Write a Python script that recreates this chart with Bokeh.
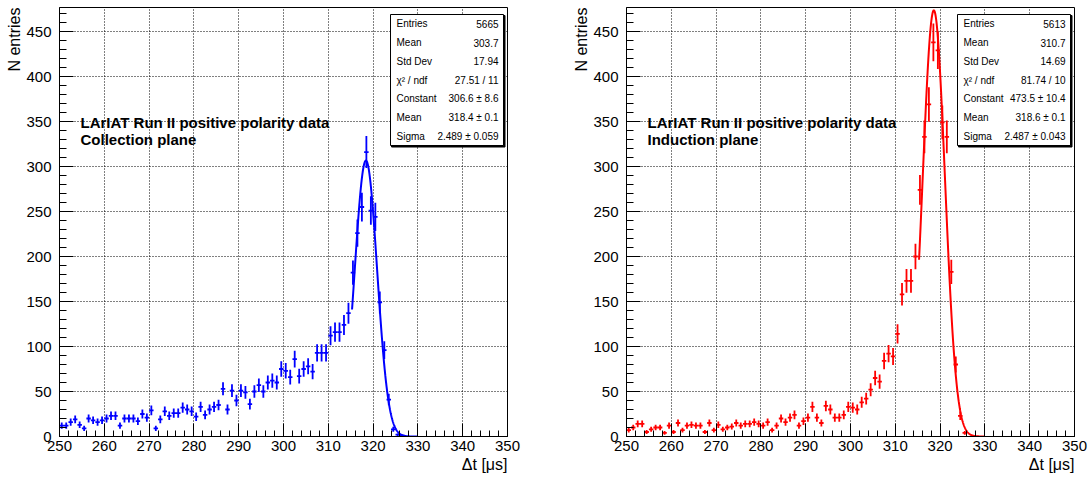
import numpy as np
from bokeh.plotting import figure
from bokeh.layouts import row
from bokeh.models import Label, SingleIntervalTicker, Range1d, ColumnDataSource, Title
from bokeh.core.properties import value
from bokeh.embed import file_html
from bokeh.resources import INLINE

# ---------------- data ----------------
bin_low = 250.0      # lower edge of first bin (us)
bin_width = 1.0      # us
collection_counts = [12, 12, 16, 19, 13, 9, 20, 18, 16, 18,
                     20, 23, 23, 12, 20, 20, 20, 17, 25, 21,
                     29, 9, 19, 28, 23, 26, 26, 32, 30, 28,
                     22, 33, 24, 30, 33, 35, 53, 30, 51, 40,
                     51, 49, 36, 50, 57, 50, 60, 62, 60, 75,
                     73, 66, 86, 67, 75, 78, 72, 93, 93, 93,
                     112, 116, 116, 124, 137, 182, 226, 255, 316, 251,
                     244, 149, 96, 41, 8, 2, 1]
induction_counts = [7, 10, 14, 14, 5, 8, 10, 10, 4, 12,
                    5, 15, 7, 12, 13, 12, 12, 5, 15, 7,
                    13, 8, 10, 11, 15, 12, 14, 14, 16, 14,
                    12, 16, 7, 12, 20, 16, 21, 24, 12, 17,
                    21, 33, 21, 15, 34, 30, 21, 21, 24, 33,
                    32, 30, 38, 42, 52, 65, 61, 84, 92, 89,
                    114, 158, 173, 173, 200, 274, 333, 369, 438, 429,
                    349, 333, 183, 80, 23, 4]
collection_fit = (306.6, 318.4, 2.489)   # constant, mean, sigma
induction_fit = (473.5, 318.6, 2.487)
fit_range = (315.3, 330.0)
x_ticks_interval = 10
y_ticks_interval = 50
collection_stats = [("Entries", "5665"), ("Mean", "303.7"), ("Std Dev", "17.94"),
                    ("\u03c7\u00b2 / ndf", "27.51 / 11"), ("Constant", "306.6 \u00b1 8.6"),
                    ("Mean", "318.4 \u00b1 0.1"), ("Sigma", "2.489 \u00b1 0.059")]
induction_stats = [("Entries", "5613"), ("Mean", "310.7"), ("Std Dev", "14.69"),
                   ("\u03c7\u00b2 / ndf", "81.74 / 10"), ("Constant", "473.5 \u00b1 10.4"),
                   ("Mean", "318.6 \u00b1 0.1"), ("Sigma", "2.487 \u00b1 0.043")]
title_line1 = "LArIAT Run II positive polarity data"
collection_line2 = "Collection plane"
induction_line2 = "Induction plane"
x_title = "\u0394t [\u03bcs]"
y_title = "N entries"

X0, X1 = 250.0, 350.0
YMAX = 476.7
FONT = "Liberation Sans"

# frame geometry (pixels)
H = 477
TOP, BOTTOM = 7, 41
FRAME_H = H - TOP - BOTTOM
FRAME_W = 448
PXX = FRAME_W / (X1 - X0)
PXY = FRAME_H / YMAX


def dx(px):
    return px / PXX


def dy(py):
    return py / PXY


def make_panel(counts, color, fit, stats, line2, W, bl, br):
    p = figure(width=W, height=H, x_range=Range1d(X0, X1), y_range=Range1d(0, YMAX),
               output_backend="svg", toolbar_location=None,
               min_border_left=bl, min_border_right=br,
               min_border_top=TOP, min_border_bottom=BOTTOM)
    p.background_fill_color = "white"
    p.border_fill_color = "white"
    p.outline_line_color = "black"
    p.outline_line_width = 1

    p.xaxis.ticker = SingleIntervalTicker(interval=x_ticks_interval, num_minor_ticks=5)
    p.yaxis.ticker = SingleIntervalTicker(interval=y_ticks_interval, num_minor_ticks=5)
    p.xgrid.ticker = SingleIntervalTicker(interval=x_ticks_interval)
    p.ygrid.ticker = SingleIntervalTicker(interval=y_ticks_interval)
    for g in (p.xgrid, p.ygrid):
        g.grid_line_color = "black"
        g.grid_line_dash = "1 2"
        g.grid_line_alpha = 1.0
        g.grid_line_width = 1
    for ax in (p.xaxis, p.yaxis):
        ax.axis_line_color = "black"
        ax.axis_line_width = 1
        ax.major_tick_line_color = "black"
        ax.minor_tick_line_color = "black"
        ax.major_tick_out = 0
        ax.minor_tick_out = 0
        ax.major_label_text_font = FONT
        ax.major_label_text_font_size = "15px"
        ax.major_label_text_color = "black"
    p.xaxis.major_tick_in = 13
    p.xaxis.minor_tick_in = 6
    p.yaxis.major_tick_in = 14
    p.yaxis.minor_tick_in = 7
    p.xaxis.major_label_standoff = 4
    p.yaxis.major_label_standoff = 8

    # histogram with error bars
    x = bin_low + bin_width * (np.arange(len(counts)) + 0.5)
    y = np.array(counts, dtype=float)
    e = np.sqrt(y)
    src = ColumnDataSource(dict(x=x, y=y, lo=y - e, hi=y + e,
                                xl=x - bin_width / 2, xr=x + bin_width / 2))
    p.segment(x0="x", y0="lo", x1="x", y1="hi", source=src, line_color=color, line_width=1.8)
    p.segment(x0="xl", y0="y", x1="xr", y1="y", source=src, line_color=color, line_width=1.8)

    # gaussian fit
    c, m, s = fit
    xf = np.linspace(fit_range[0], fit_range[1], 300)
    yf = c * np.exp(-0.5 * ((xf - m) / s) ** 2)
    p.line(xf, yf, line_color=color, line_width=2)

    # stats box
    bx0 = X1 - dx(117)
    bx1 = X1 - dx(4)
    by1 = YMAX - dy(14 - TOP)
    by0 = YMAX - dy(145 - TOP)
    p.quad(left=[bx0 + dx(1)], right=[bx1 + dx(1.5)], top=[by1 - dy(1)], bottom=[by0 - dy(1.5)],
           fill_color="black", line_color="black", line_width=1)
    p.quad(left=[bx0], right=[bx1], top=[by1], bottom=[by0],
           fill_color="white", line_color="black", line_width=1)
    nrow = len(stats)
    rh = (by1 - by0) / nrow
    ys = [by1 - rh * (i + 0.5) for i in range(nrow)]
    p.text(x=[bx0 + dx(6)] * nrow, y=ys, text=[k for k, _ in stats],
           text_font=value(FONT), text_font_size="10px", text_baseline="middle",
           text_align="left", text_color="black")
    p.text(x=[bx1 - dx(5)] * nrow, y=ys, text=[v for _, v in stats],
           text_font=value(FONT), text_font_size="10px", text_baseline="middle",
           text_align="right", text_color="black")

    # panel text
    p.add_layout(Label(x=X0 + dx(21), y=YMAX - dy(122 - TOP), text=title_line1,
                       text_font=FONT, text_font_size="15px", text_font_style="bold",
                       text_baseline="alphabetic", text_color="black"))
    p.add_layout(Label(x=X0 + dx(21), y=YMAX - dy(139 - TOP), text=line2,
                       text_font=FONT, text_font_size="15px", text_font_style="bold",
                       text_baseline="alphabetic", text_color="black"))
    # axis titles (placed at the end of each axis, as in ROOT)
    p.add_layout(Title(text=y_title, align="right", text_font=FONT, text_font_size="16px",
                       text_font_style="normal", text_color="black", standoff=2), "left")
    p.add_layout(Title(text=x_title, align="right", text_font=FONT, text_font_size="16px",
                       text_font_style="normal", text_color="black", standoff=1), "below")
    return p


p1 = make_panel(collection_counts, "#0000ff", collection_fit, collection_stats,
                collection_line2, 560, 59, 53)
p2 = make_panel(induction_counts, "#ff0000", induction_fit, induction_stats,
                induction_line2, 531, 66, 17)

layout = row(p1, p2, spacing=0)
open("out.html", "w").write(file_html(layout, INLINE))
